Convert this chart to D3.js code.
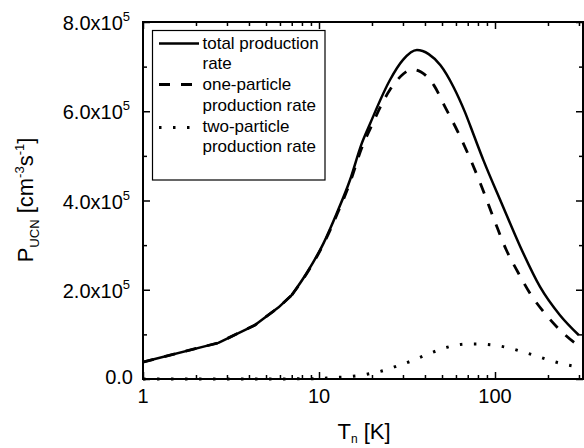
<!DOCTYPE html>
<html><head><meta charset="utf-8">
<script src="https://cdn.jsdelivr.net/npm/d3@7"></script>
<style>body{margin:0;background:#fff}svg{display:block;font-family:Arial,"Liberation Sans",sans-serif}</style>
</head><body><svg id="c" width="584" height="448"></svg>
<script>
// Data (T in K, production rate in cm^-3 s^-1)
const totalT = [1, 2.68, 4.33, 5.87, 7.0, 8.5, 10.6, 12.6, 15.0, 17.5, 19.5, 25.3, 30, 36, 42, 49, 58, 67.5, 76, 86, 109, 139, 180, 234, 300];
const totalP = [38000, 81000, 121000, 160000, 188000, 237000, 304000, 371000, 446000, 528000, 572000, 670000, 715000, 737000, 728000, 703000, 655000, 598000, 545000, 490000, 394000, 297000, 207000, 143000, 98000];
const oneT = [1, 2.68, 4.33, 5.87, 7.0, 8.5, 10.6, 12.6, 15.0, 17.5, 19.5, 25.3, 30, 33.6, 38, 45, 52, 62, 72, 84, 100, 116, 136, 158, 192, 250, 300];
const oneP = [38000, 81000, 121000, 160000, 188000, 236000, 302000, 367000, 440000, 518000, 560000, 648000, 683000, 694000, 688000, 658000, 610000, 551000, 495000, 431000, 352000, 289000, 237000, 192000, 147000, 99000, 74000];
const twoT = [1, 5, 10, 11.8, 14, 16.7, 19.9, 23.9, 28.5, 33.9, 40.4, 48, 57, 68, 81, 97, 116, 139, 165, 197, 234, 279, 300];
const twoP = [0, 0, 1000, 3000, 4500, 7400, 12800, 20200, 30700, 41000, 53800, 65000, 74000, 78400, 78400, 76200, 71000, 62700, 53800, 44000, 35200, 29100, 27000];
const xMajor = [1, 10, 100];
const xMinor = [2,3,4,5,6,7,8,9,20,30,40,50,60,70,80,90,200,300];
const yMajor = [0, 200000, 400000, 600000, 800000];
const yMinor = [100000, 300000, 500000, 700000];
const yLabels = ["0.0", "2.0x10", "4.0x10", "6.0x10", "8.0x10"];
const yExp = ["", "5", "5", "5", "5"];
const legendLabels = [["total production","rate"],["one-particle","production rate"],["two-particle","production rate"]];

const svg = d3.select("#c");
const L = 143, R = 583, T = 22, B = 379;
const x = d3.scaleLog().domain([1, Math.pow(10, 2.5)]).range([L, R]);
const y = d3.scaleLinear().domain([0, 800000]).range([B, T]);

function addAxis(gen, tr) {
  const g = svg.append("g").attr("transform", tr).call(gen);
  g.select(".domain").remove();
  g.selectAll("line").attr("stroke", "#000").attr("stroke-width", 1.5);
  return g;
}
addAxis(d3.axisBottom(x).tickValues(xMajor).tickSize(-7).tickFormat(""), `translate(0,${B})`);
addAxis(d3.axisBottom(x).tickValues(xMinor).tickSize(-4).tickFormat(""), `translate(0,${B})`);
addAxis(d3.axisTop(x).tickValues(xMajor).tickSize(-7).tickFormat(""), `translate(0,${T})`);
addAxis(d3.axisTop(x).tickValues(xMinor).tickSize(-4).tickFormat(""), `translate(0,${T})`);
addAxis(d3.axisLeft(y).tickValues(yMajor).tickSize(-7).tickFormat(""), `translate(${L},0)`);
addAxis(d3.axisLeft(y).tickValues(yMinor).tickSize(-4).tickFormat(""), `translate(${L},0)`);
addAxis(d3.axisRight(y).tickValues(yMajor).tickSize(-7).tickFormat(""), `translate(${R},0)`);
addAxis(d3.axisRight(y).tickValues(yMinor).tickSize(-4).tickFormat(""), `translate(${R},0)`);

svg.append("g").selectAll("text").data(xMajor).join("text")
  .attr("x", d => x(d)).attr("y", B + 24).attr("text-anchor", "middle")
  .attr("font-size", 20).text(d => d);

const yl = svg.append("g").selectAll("text").data(yMajor).join("text")
  .attr("x", (d,i) => yExp[i] ? L - 13 : L - 10)
  .attr("y", (d,i) => y(d) + (d === 0 ? 5 : 8))
  .attr("text-anchor", "end").attr("font-size", 20);
yl.append("tspan").text((d,i) => yLabels[i]);
yl.append("tspan").attr("dy", -9).attr("font-size", 13).text((d,i) => yExp[i]);

svg.append("rect").attr("x", L).attr("y", T).attr("width", R - L).attr("height", B - T)
  .attr("fill", "none").attr("stroke", "#000").attr("stroke-width", 2);

// lines
const smooth = d3.line().x(d => x(d[0])).y(d => y(d[1])).curve(d3.curveMonotoneX);
const straight = d3.line().x(d => x(d[0])).y(d => y(d[1]));
const split = 4; // low-T part drawn as straight segments, as in the reference
const mixed = pts => straight(pts.slice(0, split + 1)) + smooth(pts.slice(split));
const plot = svg.append("g");
plot.append("path").attr("d", mixed(d3.zip(oneT, oneP)))
  .attr("fill", "none").attr("stroke", "#000").attr("stroke-width", 2.8).attr("stroke-dasharray", "11,11");
plot.append("path").attr("d", mixed(d3.zip(totalT, totalP)))
  .attr("fill", "none").attr("stroke", "#000").attr("stroke-width", 2.5).attr("stroke-linejoin", "round");
plot.append("path").datum(d3.zip(twoT, twoP)).attr("d", smooth)
  .attr("fill", "none").attr("stroke", "#000").attr("stroke-width", 3).attr("stroke-dasharray", "2.5,11.5");

// legend
const lg = svg.append("g");
lg.append("rect").attr("x", 152.5).attr("y", 30.5).attr("width", 172.5).attr("height", 149.5)
  .attr("fill", "#fff").attr("stroke", "#000").attr("stroke-width", 1.2);
const dashes = [null, "11,11", "2.5,11.5"];
const lineY = [43.5, 84.5, 127.5];
const textY = [[48.5, 69], [90, 110.5], [131.5, 152]];
legendLabels.forEach((lab, i) => {
  lg.append("line").attr("x1", 159).attr("x2", 199).attr("y1", lineY[i]).attr("y2", lineY[i])
    .attr("stroke", "#000").attr("stroke-width", i === 0 ? 2.5 : 3)
    .attr("stroke-dasharray", dashes[i]);
  lab.forEach((t, j) => {
    lg.append("text").attr("x", 202.5).attr("y", textY[i][j]).attr("font-size", 17).text(t);
  });
});

// axis titles
const xt = svg.append("text").attr("x", 364).attr("y", 439).attr("text-anchor", "middle").attr("font-size", 22);
xt.append("tspan").text("T");
xt.append("tspan").attr("dy", 4).attr("font-size", 12).text("n");
xt.append("tspan").attr("dy", -4).text(" [K]");

const yt = svg.append("text").attr("transform", `translate(33,200) rotate(-90)`).attr("text-anchor", "middle").attr("font-size", 22);
yt.append("tspan").text("P");
yt.append("tspan").attr("dy", 6).attr("font-size", 13).text("UCN");
yt.append("tspan").attr("dy", -6).text(" [cm");
yt.append("tspan").attr("dy", -9).attr("font-size", 13).text("-3");
yt.append("tspan").attr("dy", 9).text("s");
yt.append("tspan").attr("dy", -9).attr("font-size", 13).text("-1");
yt.append("tspan").attr("dy", 9).text("]");
</script></body></html>
